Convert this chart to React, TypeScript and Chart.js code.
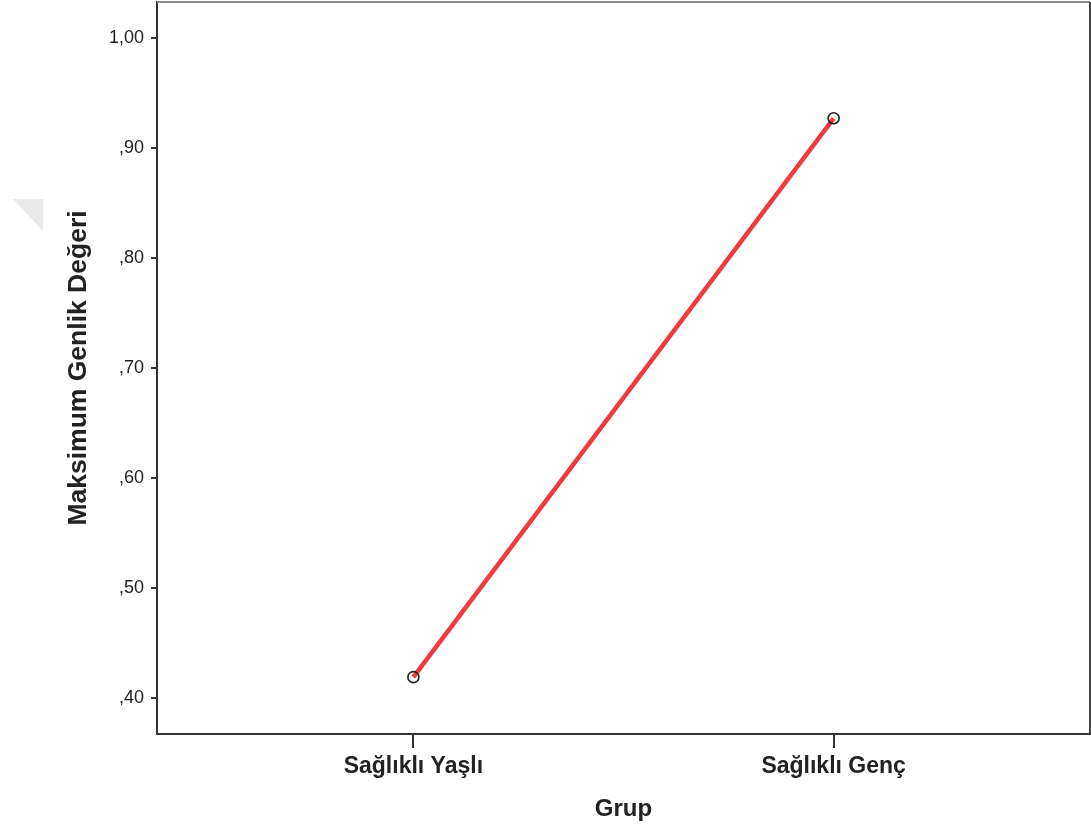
import React, { useEffect, useRef } from "react";
import { Chart, registerables } from "chart.js";

Chart.register(...registerables);

const categories: string[] = ["Sağlıklı Yaşlı", "Sağlıklı Genç"];
const meanValues: number[] = [0.419, 0.927];
const yTickValues: number[] = [0.4, 0.5, 0.6, 0.7, 0.8, 0.9, 1.0];
const yTitle = "Maksimum Genlik Değeri";
const xTitle = "Grup";

const FONT = "'Liberation Sans', Arial, sans-serif";

const frame = {
  id: "frame",
  afterDraw(chart: any) {
    const { ctx, chartArea } = chart;
    ctx.save();
    ctx.strokeStyle = "#8a8a8a";
    ctx.lineWidth = 2;
    ctx.beginPath();
    ctx.moveTo(chartArea.left, chartArea.top);
    ctx.lineTo(chartArea.right, chartArea.top);
    ctx.stroke();
    ctx.strokeStyle = "#444";
    ctx.beginPath();
    ctx.moveTo(chartArea.right, chartArea.top);
    ctx.lineTo(chartArea.right, chartArea.bottom);
    ctx.stroke();
    ctx.restore();
  },
};

export default function App() {
  const ref = useRef<HTMLCanvasElement | null>(null);
  useEffect(() => {
    if (!ref.current) return;
    const chart = new Chart(ref.current, {
      type: "line",
      data: {
        datasets: [
          {
            data: categories.map((_, i) => ({ x: i, y: meanValues[i] })),
            borderColor: "#f03a3e",
            borderWidth: 4.5,
            pointRadius: 5.5,
            pointBorderWidth: 1.6,
            pointBorderColor: "#222",
            pointBackgroundColor: "rgba(0,0,0,0)",
            tension: 0,
            clip: false,
          },
        ],
      },
      plugins: [frame],
      options: {
        animation: false,
        responsive: false,
        devicePixelRatio: 1,
        layout: { autoPadding: false, padding: { top: 0, right: 0, left: 0, bottom: 0 } },
        plugins: { legend: { display: false }, tooltip: { enabled: false } },
        scales: {
          x: {
            type: "linear",
            min: -0.61,
            max: 1.61,
            afterBuildTicks: (s: any) => {
              s.ticks = categories.map((_, i) => ({ value: i }));
            },
            afterFit: (s: any) => {
              s.height = 100;
              s.paddingLeft = 0;
              s.paddingRight = 1;
              s.paddingTop = 0;
              s.paddingBottom = 0;
            },
            ticks: {
              callback: (v: any) => categories[Math.round(Number(v))] ?? "",
              font: { family: FONT, size: 23, weight: "bold" },
              color: "#222",
              padding: 5,
              maxRotation: 0,
              autoSkip: false,
            },
            grid: {
              drawOnChartArea: false,
              drawTicks: true,
              tickLength: 14,
              color: "#333",
              lineWidth: 2,
            },
            border: { display: true, color: "#333", width: 2 },
            title: {
              display: true,
              text: xTitle,
              font: { family: FONT, size: 24, weight: "bold" },
              color: "#222",
              padding: { top: 0, bottom: 10 },
            },
          },
          y: {
            type: "linear",
            min: 0.3673,
            max: 1.0327,
            afterBuildTicks: (s: any) => {
              s.ticks = yTickValues.map((v) => ({ value: v }));
            },
            afterFit: (s: any) => {
              s.width = 157;
              s.paddingTop = 2;
              s.paddingBottom = 0;
              s.paddingLeft = 0;
              s.paddingRight = 0;
            },
            ticks: {
              callback: (v: any) => {
                const t = Number(v).toFixed(2).replace(".", ",");
                return t.startsWith("0") ? t.slice(1) : t;
              },
              font: { family: FONT, size: 18 },
              color: "#222",
              padding: 7,
            },
            grid: {
              drawOnChartArea: false,
              drawTicks: true,
              tickLength: 6,
              color: "#333",
              lineWidth: 2,
            },
            border: { display: true, color: "#333", width: 2 },
            title: {
              display: true,
              text: yTitle,
              font: { family: FONT, size: 26.5, weight: "bold" },
              color: "#222",
              padding: { top: 63, bottom: 0 },
            },
          },
        },
      },
    });
    return () => chart.destroy();
  }, []);
  return (
    <div style={{ position: "fixed", left: 0, top: 0, width: 1091, height: 834, background: "#fff" }}>
      <div
        style={{
          position: "absolute",
          left: 13,
          top: 199,
          width: 30,
          height: 32,
          background: "#e9e9e9",
          clipPath: "polygon(0 0, 100% 0, 100% 100%)",
        }}
      />
      <canvas ref={ref} width={1091} height={834} style={{ position: "absolute", left: 0, top: 0, width: 1091, height: 834 }} />
    </div>
  );
}
